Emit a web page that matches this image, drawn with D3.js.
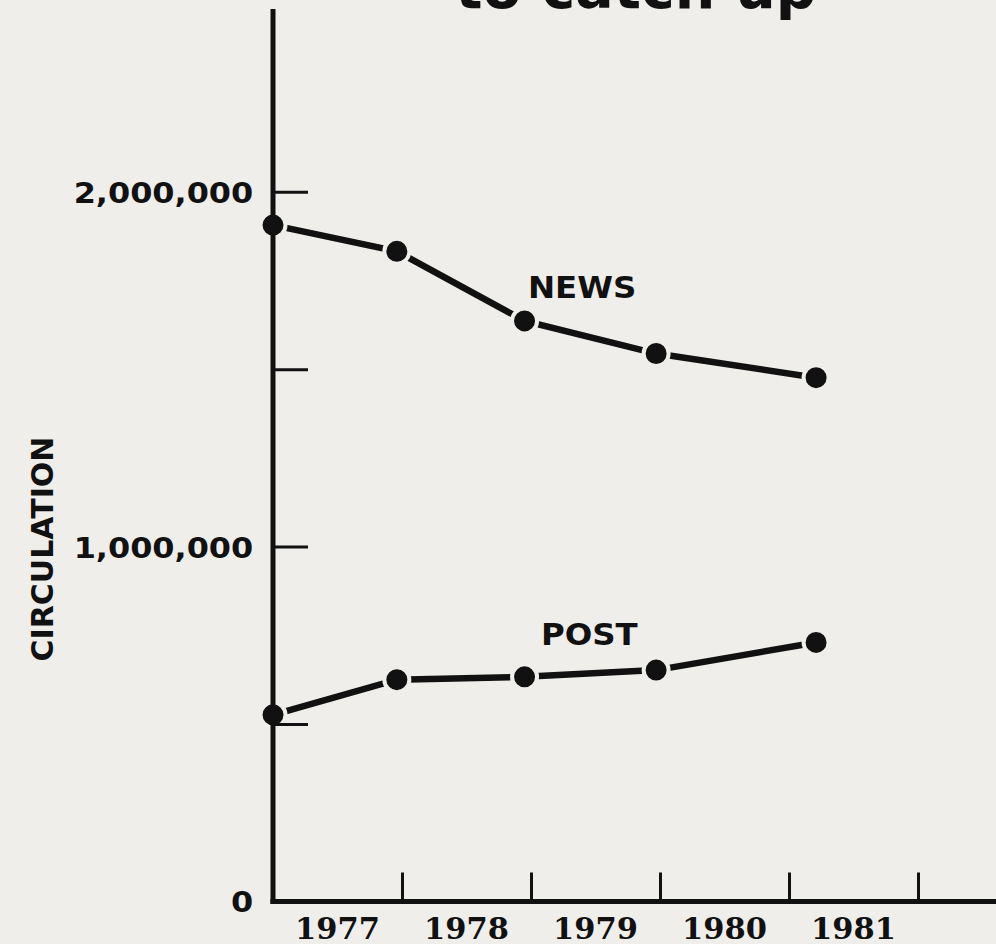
<!DOCTYPE html>
<html>
<head>
<meta charset="utf-8">
<script src="https://cdn.jsdelivr.net/npm/d3@7/dist/d3.min.js"></script>
<style>
  html, body { margin: 0; padding: 0; background: #efeeeb; }
  svg { display: block; }
</style>
</head>
<body>
<svg id="chart" width="996" height="944"></svg>
<script>
// data
const pointYears = [1977.0, 1977.96, 1978.95, 1979.97, 1981.21];
const newsValues = [1906000, 1832000, 1636000, 1544000, 1476000];
const postValues = [526000, 625000, 633000, 652000, 730000];
const seriesNames = ["NEWS", "POST"];
const yTickValues = [0, 500000, 1000000, 1500000, 2000000];
const yearLabels = ["1977", "1978", "1979", "1980", "1981"];
const yearTicks = [1978, 1979, 1980, 1981, 1982];

const ink = "#111";
const paper = "#efeeeb";

const svg = d3.select("#chart");

const x = d3.scaleLinear().domain([1977, 1982]).range([273, 918]);
const y = d3.scaleLinear().domain([0, 2000000]).range([901.5, 191.7]);

// layers, bottom to top
const titleG = svg.append("g");
const linesG = svg.append("g");
const dotsG = svg.append("g");
const axesG = svg.append("g");
const labelsG = svg.append("g");

// title (cut off at the top in the original)
titleG.append("text")
    .attr("x", 636).attr("y", 8)
    .attr("text-anchor", "middle")
    .attr("font-family", "DejaVu Sans")
    .attr("font-weight", "bold")
    .attr("font-size", 57)
    .attr("fill", ink)
    .text("to catch up");

const series = [newsValues, postValues].map((vals, i) => ({
    name: seriesNames[i],
    points: vals.map((v, j) => ({ year: pointYears[j], value: v }))
}));

const line = d3.line().x(d => x(d.year)).y(d => y(d.value));

linesG.selectAll("path")
    .data(series)
    .join("path")
    .attr("d", d => line(d.points))
    .attr("fill", "none")
    .attr("stroke", ink)
    .attr("stroke-width", 6.5);

// dots: a paper-coloured ring leaves the small break between line and dot
dotsG.selectAll("g")
    .data(series)
    .join("g")
    .selectAll("circle")
    .data(d => d.points)
    .join("circle")
    .attr("cx", d => x(d.year))
    .attr("cy", d => y(d.value))
    .attr("r", 12.5)
    .style("fill", ink)
    .style("stroke", paper)
    .style("stroke-width", 4);

// y axis
const yAxis = axesG.append("g")
    .attr("transform", `translate(${x(1977)},0)`)
    .call(d3.axisLeft(y)
        .tickValues(yTickValues)
        .tickSize(-35)
        .tickPadding(18)
        .tickFormat(d => d % 1000000 === 0 ? (d === 0 ? "0" : d3.format(",")(d)) : ""));
yAxis.select(".domain").remove();
yAxis.selectAll(".tick line").attr("stroke", ink).attr("stroke-width", 3)
    .filter(d => d === 0).remove();
yAxis.selectAll(".tick text")
    .attr("fill", ink)
    .attr("font-family", "DejaVu Sans")
    .attr("font-weight", "bold")
    .attr("font-size", 29)
    .attr("x", -18)
    .attr("dy", "0.36em")
    .attr("transform", "scale(1.1,1)");

// x axis
const xAxis = axesG.append("g")
    .attr("transform", `translate(0,${y(0)})`)
    .call(d3.axisBottom(x).tickValues(yearTicks).tickSize(-29).tickFormat(""));
xAxis.select(".domain").remove();
xAxis.selectAll(".tick line").attr("stroke", ink).attr("stroke-width", 3);

axesG.append("g")
    .attr("transform", `translate(0,${y(0)})`)
    .selectAll("text")
    .data(yearLabels)
    .join("text")
    .attr("x", d => x(+d + 0.5))
    .attr("y", 37)
    .attr("text-anchor", "middle")
    .attr("font-family", "DejaVu Serif")
    .attr("font-weight", "bold")
    .attr("font-size", 30.5)
    .attr("fill", ink)
    .text(d => d);

axesG.append("line")
    .attr("x1", x(1977)).attr("x2", x(1977))
    .attr("y1", 9).attr("y2", y(0) + 2.5)
    .attr("stroke", ink).attr("stroke-width", 5);
axesG.append("line")
    .attr("x1", x(1977) - 2.5).attr("x2", 996)
    .attr("y1", y(0)).attr("y2", y(0))
    .attr("stroke", ink).attr("stroke-width", 5);

// series labels
const labelPos = { NEWS: [528, 298], POST: [541, 645] };
labelsG.selectAll(".series-label")
    .data(seriesNames)
    .join("text")
    .attr("class", "series-label")
    .attr("transform", d => `translate(${labelPos[d][0]},${labelPos[d][1]}) scale(1.08,1)`)
    .attr("font-family", "DejaVu Sans")
    .attr("font-weight", "bold")
    .attr("font-size", 30)
    .attr("fill", ink)
    .text(d => d);

// y axis title
labelsG.append("text")
    .attr("transform", "translate(53,549) rotate(-90)")
    .attr("text-anchor", "middle")
    .attr("font-family", "DejaVu Sans")
    .attr("font-weight", "bold")
    .attr("font-size", 30)
    .attr("fill", ink)
    .text("CIRCULATION");
</script>
</body>
</html>
